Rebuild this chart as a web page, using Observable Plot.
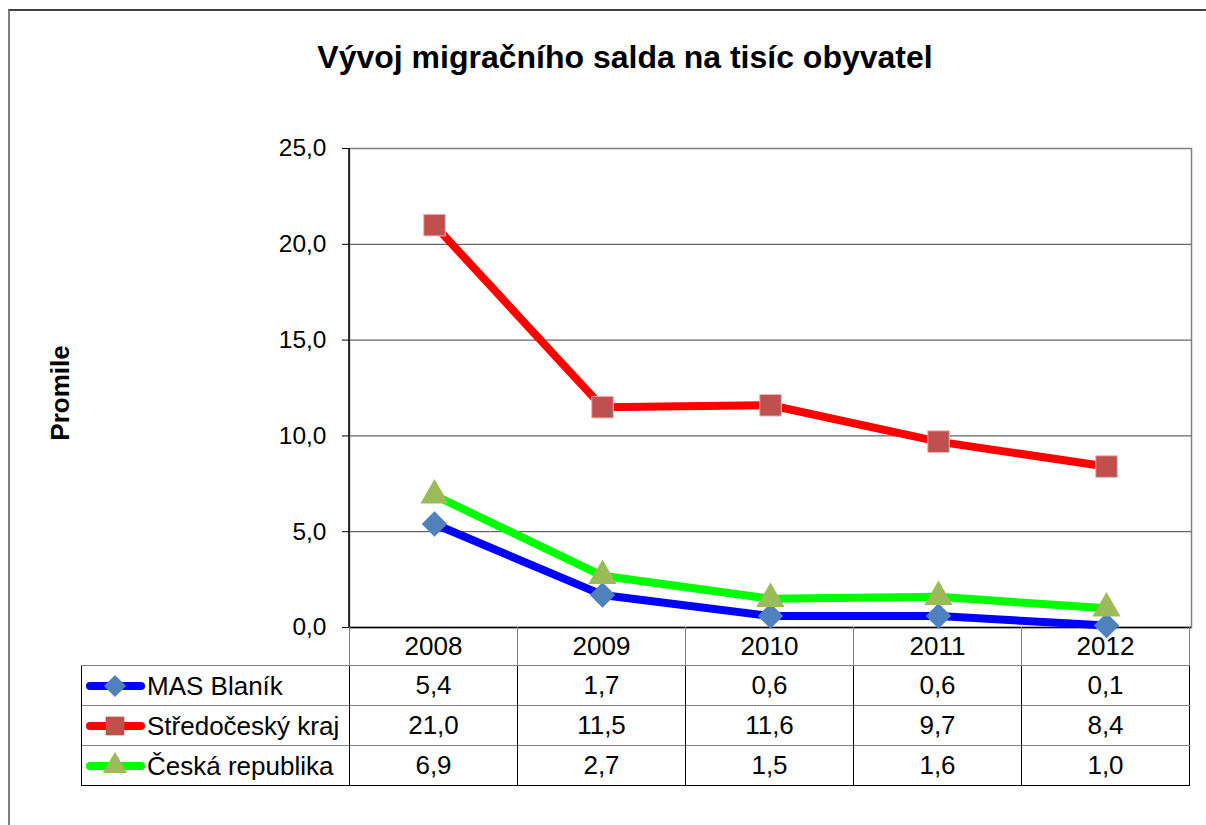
<!DOCTYPE html>
<html><head><meta charset="utf-8">
<script src="https://cdn.jsdelivr.net/npm/d3@7"></script>
<script src="https://cdn.jsdelivr.net/npm/@observablehq/plot@0.6"></script>
<style>
body{margin:0;background:#fff;font-family:"Liberation Sans",Arial,sans-serif;color:#000;}
#wrap{position:relative;width:1206px;height:825px;overflow:hidden;background:#fff;}
#border{position:absolute;left:8px;top:9px;width:1300px;height:900px;border-left:2px solid #7f7f7f;border-top:2px solid #404040;}
#title{position:absolute;left:0;width:1250px;top:38px;text-align:center;font-weight:bold;font-size:32px;line-height:38px;}
#plot{position:absolute;left:0;top:0;}
table{border-collapse:collapse;position:absolute;table-layout:fixed;font-size:26px;}
#header{left:349px;top:627px;}
#header td{height:38px;padding:0;text-align:center;border-left:1px solid #808080;border-right:1px solid #808080;}
#datatable{left:81px;top:665px;border:1.5px solid #000;}
#datatable td{height:39px;padding:0;text-align:center;border-left:1.5px solid #000;border-top:1px solid #808080;}
#datatable td.name{text-align:left;white-space:nowrap;}
#datatable td.name svg{vertical-align:middle;margin-left:3px;margin-right:2px;}
#datatable td.name span{vertical-align:middle;}
</style>
</head><body>
<div id="wrap">
  <div id="border"></div>
  <div id="title"></div>
  <div id="plot"></div>
  <table id="header"></table>
  <table id="datatable"></table>
</div>
<script>
// ---- data ----
const titleText = "Vývoj migračního salda na tisíc obyvatel";
const yLabel = "Promile";
const years = [2008, 2009, 2010, 2011, 2012];
const seriesNames = ["MAS Blaník", "Středočeský kraj", "Česká republika"];
const masBlanik = [5.4, 1.7, 0.6, 0.6, 0.1];
const stredoceskyKraj = [21.0, 11.5, 11.6, 9.7, 8.4];
const ceskaRepublika = [6.9, 2.7, 1.5, 1.6, 1.0];
const yTicks = [0, 5, 10, 15, 20, 25];

// ---- styles ----
const lineColors = ["#0000FF", "#FF0000", "#00FF00"];
const markerColors = ["#4F81BD", "#C0504D", "#9BBB59"];
const markerSymbols = ["diamond2", "square", "triangle"];
const markerR = [11.5, 12.2, 10.5];
const fmt = v => v.toFixed(1).replace(".", ",");

const seriesValues = [masBlanik, stredoceskyKraj, ceskaRepublika];
const series = seriesNames.map((name, i) => ({
  name, values: seriesValues[i],
  rows: years.map((y, j) => ({year: y, value: seriesValues[i][j], series: name}))
}));

document.getElementById("title").textContent = titleText;

const W = 1206, H = 665;
const marks = [
  Plot.ruleY(yTicks.slice(1), {stroke: "#404040", strokeWidth: 1}),
  Plot.frame({stroke: "#808080", strokeWidth: 1.5}),
  Plot.ruleY([0], {stroke: "#000", strokeWidth: 1.5}),
  Plot.axisY(yTicks, {tickFormat: fmt, tickSize: 7, tickPadding: 16, fontSize: 24.5, label: null, stroke: "#000"}),
  Plot.text([yLabel], {frameAnchor: "left", textAnchor: "middle", rotate: -90, dx: -289, dy: 5, fontWeight: "bold", fontSize: 26})
];
series.forEach((s, i) => {
  marks.push(Plot.line(s.rows, {x: "year", y: "value", stroke: lineColors[i], strokeWidth: 8, strokeLinejoin: "round", strokeLinecap: "butt"}));
});
series.forEach((s, i) => {
  marks.push(Plot.dot(s.rows, {x: "year", y: "value", symbol: markerSymbols[i], r: markerR[i], fill: markerColors[i],
    stroke: i === 1 ? "#E6B9B8" : "none", strokeWidth: 1}));
});

const chart = Plot.plot({
  width: W, height: H,
  marginLeft: 349, marginRight: 15, marginTop: 148, marginBottom: 38,
  style: {fontFamily: "'Liberation Sans', Arial, sans-serif", fontSize: "24px", color: "#000", background: "transparent"},
  x: {type: "point", domain: years, padding: 0.5, axis: null},
  y: {domain: [0, 25], axis: null},
  marks
});
// left axis line black
const svgNS = "http://www.w3.org/2000/svg";
document.getElementById("plot").appendChild(chart);
const yS = chart.scale("y");
const leftLine = document.createElementNS(svgNS, "line");
leftLine.setAttribute("x1", 349); leftLine.setAttribute("x2", 349);
leftLine.setAttribute("y1", yS.apply(25)); leftLine.setAttribute("y2", yS.apply(0));
leftLine.setAttribute("stroke", "#000"); leftLine.setAttribute("stroke-width", 1.5);
chart.appendChild(leftLine);

// ---- header row (category axis) ----
const xS = chart.scale("x");
const step = xS.apply(years[1]) - xS.apply(years[0]);
const header = d3.select("#header");
header.append("colgroup").selectAll("col").data(years).join("col").style("width", step + "px");
header.append("tr").selectAll("td").data(years).join("td").text(d => d);

// ---- data table with legend keys ----
const table = d3.select("#datatable");
const cg = table.append("colgroup");
cg.append("col").style("width", (349 - 81) + "px");
cg.selectAll("col.v").data(years).join("col").attr("class", "v").style("width", step + "px");
const trs = table.selectAll("tr").data(series).join("tr");
const nameCell = trs.append("td").attr("class", "name");
nameCell.each(function(s, i) {
  const cell = d3.select(this);
  const svg = cell.append("svg").attr("width", 60).attr("height", 28);
  svg.append("line").attr("x1", 5).attr("x2", 56).attr("y1", 14).attr("y2", 14)
    .attr("stroke", lineColors[i]).attr("stroke-width", 8).attr("stroke-linecap", "round");
  const symMap = {diamond2: d3.symbolDiamond2, square: d3.symbolSquare, triangle: d3.symbolTriangle};
  svg.append("path").attr("transform", "translate(30,14)")
    .attr("d", d3.symbol(symMap[markerSymbols[i]], Math.PI * markerR[i] * markerR[i] * 0.75)())
    .attr("fill", markerColors[i]);
  cell.append("span").text(s.name);
});
trs.selectAll("td.v").data(s => s.values).join("td").attr("class", "v").text(fmt);
</script>
</body></html>
